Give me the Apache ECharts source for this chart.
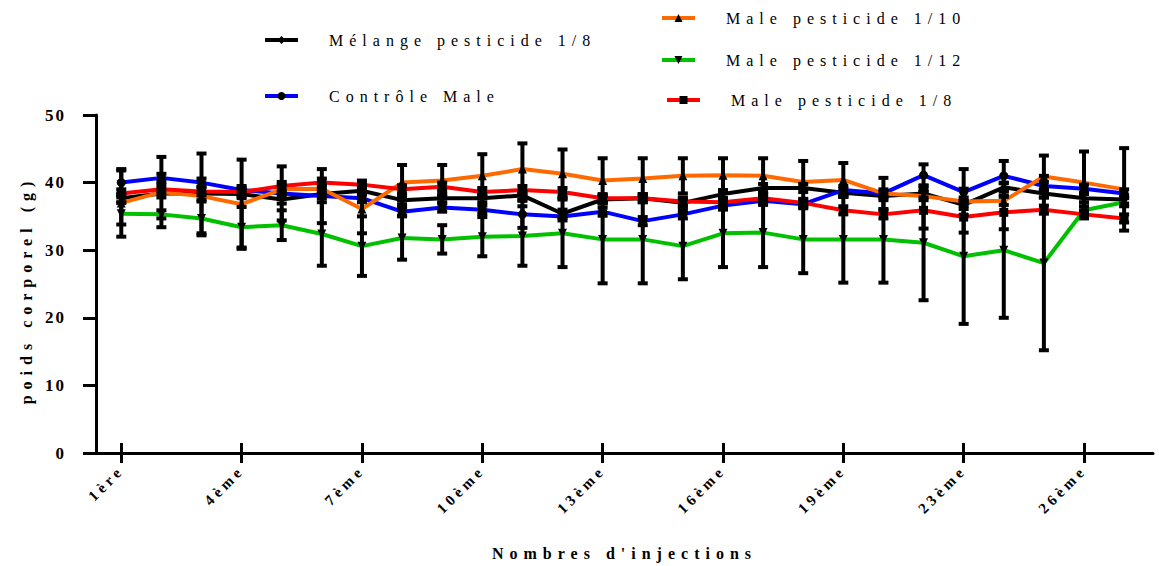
<!DOCTYPE html>
<html>
<head>
<meta charset="utf-8">
<script src="https://cdn.jsdelivr.net/npm/echarts@6/dist/echarts.min.js"></script>
<style>
  html, body { margin: 0; background: #fff; }
  #main { width: 1159px; height: 566px; }
  /* the original export spaces its letters widely */
  #main text { letter-spacing: 6px; }
  #main text[style*="17px"] { letter-spacing: 2px; }
  #main text[style*="15px"] { letter-spacing: 4px; }
</style>
</head>
<body>
<div id="main"></div>
<script>
// injection number (x position) and the labelled ticks
const injections = [1, 2, 3, 4, 5, 6, 7, 8, 9, 10, 11, 12, 13, 14, 15, 16, 17, 18, 19, 20, 21, 22, 23, 24, 25, 26]
const tickValues = [1, 4, 7, 10, 13, 16, 19, 22, 25]
const tickLabels = ['1ère', '4ème', '7ème', '10ème', '13ème', '16ème', '19ème', '23ème', '26ème']

// mean body weight (g)
const melange18 = [37.7, 38.4, 38.4, 38.3, 37.5, 38.3, 38.8, 37.4, 37.7, 37.7, 38.1, 35.4, 37.5, 37.7, 37.0, 38.3, 39.2, 39.2, 38.5, 38.0, 38.4, 36.7, 39.3, 38.4, 37.7, 37.5]
const controleMale = [40.0, 40.7, 40.0, 38.9, 38.4, 38.0, 37.7, 35.7, 36.3, 36.0, 35.3, 35.0, 35.7, 34.3, 35.3, 36.6, 37.3, 36.8, 38.9, 38.4, 41.1, 38.6, 41.0, 39.5, 39.1, 38.4]
const male110 = [37.0, 38.6, 38.0, 36.8, 39.0, 39.1, 36.1, 40.0, 40.3, 41.0, 42.0, 41.3, 40.3, 40.6, 41.0, 41.1, 41.0, 40.1, 40.4, 38.4, 38.0, 37.2, 37.3, 40.9, 40.0, 39.0]
const male112 = [35.4, 35.3, 34.7, 33.4, 33.7, 32.4, 30.6, 31.8, 31.6, 32.0, 32.1, 32.5, 31.6, 31.6, 30.6, 32.5, 32.6, 31.6, 31.6, 31.6, 31.1, 29.1, 30.0, 28.1, 35.9, 37.1]
const male18 = [38.4, 39.0, 38.7, 38.6, 39.5, 40.0, 39.7, 39.0, 39.4, 38.6, 38.9, 38.6, 37.7, 37.7, 37.2, 37.1, 37.7, 37.0, 35.9, 35.3, 35.9, 34.9, 35.6, 36.0, 35.3, 34.7]

// error bars (+/- g)
const melange18Err = [0.6, 0.6, 5.9, 0.6, 0.6, 0.6, 0.6, 0.6, 0.6, 0.6, 0.6, 0.6, 0.6, 0.6, 0.6, 0.6, 0.6, 0.6, 0.6, 0.6, 0.6, 0.6, 0.6, 0.6, 0.6, 0.6]
const controleMaleErr = [1.8, 0.6, 0.6, 0.6, 4.0, 4.0, 0.6, 0.6, 0.6, 0.6, 2.0, 0.6, 0.6, 0.6, 0.6, 0.6, 0.6, 0.6, 0.6, 0.6, 1.6, 3.4, 2.2, 0.6, 0.6, 0.6]
const male110Err = [5.0, 5.2, 0.6, 6.6, 0.6, 0.6, 3.6, 2.6, 2.3, 3.2, 3.8, 3.6, 3.3, 3.0, 2.6, 2.5, 2.6, 3.1, 2.5, 2.3, 0.6, 0.6, 0.6, 3.1, 4.6, 6.1]
const male112Err = [1.6, 0.6, 2.5, 3.0, 2.2, 4.7, 4.4, 3.2, 2.1, 2.9, 4.4, 5.0, 6.5, 6.5, 4.9, 5.0, 5.1, 5.0, 6.4, 6.4, 8.5, 10.0, 10.0, 12.9, 0.6, 0.6]
const male18Err = [0.6, 0.6, 0.6, 0.6, 0.6, 0.6, 0.6, 0.6, 0.6, 0.6, 0.6, 0.6, 0.6, 0.6, 0.6, 0.6, 0.6, 0.6, 0.6, 0.6, 2.7, 2.3, 2.5, 0.6, 0.6, 0.6]

const serif = 'Liberation Serif'

const myChart = echarts.init(document.getElementById('main'), null, { renderer: 'svg' })

function lineSeries(name, values, color, symbol, size, rotate) {
  return {
    name: name,
    type: 'line',
    data: injections.map((x, i) => [x, values[i]]),
    symbol: symbol,
    symbolSize: size,
    symbolRotate: rotate || 0,
    showAllSymbol: true,
    lineStyle: { color: color, width: 4 },
    itemStyle: { color: '#000' },
    z: 3
  }
}

function errorSeries(name, values, errs) {
  return {
    name: name + ' ET',
    type: 'custom',
    data: injections.map((x, i) => [x, values[i] - errs[i], values[i] + errs[i]]),
    encode: { x: 0, y: [1, 2] },
    z: 4,
    renderItem: function (params, api) {
      const low = api.coord([api.value(0), api.value(1)])
      const high = api.coord([api.value(0), api.value(2)])
      const w = 5
      const style = { stroke: '#000', lineWidth: 4 }
      return {
        type: 'group',
        children: [
          { type: 'line', shape: { x1: high[0], y1: high[1], x2: low[0], y2: low[1] }, style: style },
          { type: 'line', shape: { x1: high[0] - w, y1: high[1], x2: high[0] + w, y2: high[1] }, style: style },
          { type: 'line', shape: { x1: low[0] - w, y1: low[1], x2: low[0] + w, y2: low[1] }, style: style }
        ]
      }
    }
  }
}

function legendAt(name, left, top) {
  return {
    data: [name],
    left: left,
    top: top,
    itemWidth: 33,
    itemHeight: 10,
    selectedMode: false,
    lineStyle: { width: 4 },
    textStyle: { fontFamily: serif, fontSize: 16, color: '#000', padding: [0, 0, 0, 26] }
  }
}

const option = {
  animation: false,
  legend: [
    legendAt('Mélange pesticide 1/8', 258, 27),
    legendAt('Contrôle Male', 258, 83),
    legendAt('Male pesticide 1/10', 655, 5),
    legendAt('Male pesticide 1/12', 655, 47),
    legendAt('Male pesticide 1/8', 660, 87)
  ],
  grid: { left: 96, right: 6, top: 115, bottom: 113 },
  xAxis: [{
    type: 'value',
    position: 'bottom',
    min: 0.37,
    max: 26.72,
    name: "Nombres d'injections",
    nameLocation: 'middle',
    nameGap: 92,
    nameTextStyle: { fontFamily: serif, fontSize: 16, fontWeight: 'bold', color: '#000' },
    axisLine: { lineStyle: { color: '#000', width: 3 } },
    axisTick: { length: 10, lineStyle: { color: '#000', width: 3 }, customValues: tickValues },
    axisLabel: {
      customValues: tickValues,
      rotate: 45,
      margin: 15,
      fontFamily: serif,
      fontSize: 15,
      fontWeight: 'bold',
      color: '#000',
      formatter: function (v) { return tickLabels[tickValues.indexOf(v)] }
    },
    splitLine: { show: false }
  }, {
    // inward half of the crossing x ticks
    type: 'value',
    position: 'bottom',
    min: 0.37,
    max: 26.72,
    axisLine: { show: false },
    axisTick: { inside: true, length: 10, lineStyle: { color: '#000', width: 3 }, customValues: tickValues },
    axisLabel: { show: false },
    splitLine: { show: false }
  }],
  yAxis: {
    type: 'value',
    min: 0,
    max: 50,
    interval: 10,
    name: 'poids corporel (g)',
    nameLocation: 'middle',
    nameGap: 62,
    nameTextStyle: { fontFamily: serif, fontSize: 16, fontWeight: 'bold', color: '#000', padding: [0, 12, 0, 0] },
    axisLine: { show: true, lineStyle: { color: '#000', width: 3 } },
    axisTick: { show: true, length: 13, lineStyle: { color: '#000', width: 3 } },
    axisLabel: { margin: 30, fontFamily: serif, fontSize: 17, fontWeight: 'bold', color: '#000' },
    splitLine: { show: false }
  },
  series: [
    lineSeries('Mélange pesticide 1/8', melange18, '#000000', 'diamond', 7),
    lineSeries('Contrôle Male', controleMale, '#0000ff', 'circle', 9),
    lineSeries('Male pesticide 1/10', male110, '#ff6a00', 'triangle', 9),
    lineSeries('Male pesticide 1/12', male112, '#00c000', 'triangle', 9, 180),
    lineSeries('Male pesticide 1/8', male18, '#ff0000', 'rect', 9),
    errorSeries('Mélange pesticide 1/8', melange18, melange18Err),
    errorSeries('Contrôle Male', controleMale, controleMaleErr),
    errorSeries('Male pesticide 1/10', male110, male110Err),
    errorSeries('Male pesticide 1/12', male112, male112Err),
    errorSeries('Male pesticide 1/8', male18, male18Err)
  ]
}

myChart.setOption(option)
</script>
</body>
</html>
